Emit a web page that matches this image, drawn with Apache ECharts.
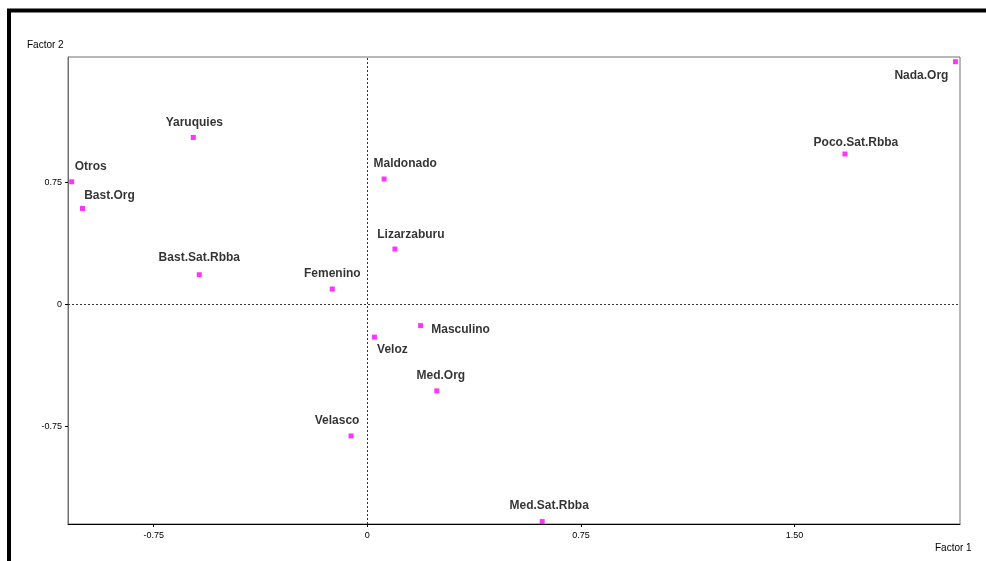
<!DOCTYPE html>
<html>
<head>
<meta charset="utf-8">
<script src="https://cdn.jsdelivr.net/npm/echarts@6/dist/echarts.min.js"></script>
<style>
  html, body { margin: 0; padding: 0; background: #fff; }
  #chart { width: 986px; height: 561px; }
</style>
</head>
<body>
<div id="chart"></div>
<script>
// Datos del análisis de correspondencias (Factor 1 / Factor 2)
const categories = [
  'Nada.Org', 'Poco.Sat.Rbba', 'Yaruquies', 'Otros', 'Bast.Org',
  'Bast.Sat.Rbba', 'Femenino', 'Maldonado', 'Lizarzaburu', 'Masculino',
  'Veloz', 'Med.Org', 'Velasco', 'Med.Sat.Rbba'
]
const factor1 = [2.065, 1.677, -0.611, -1.038, -1.0, -0.59, -0.123, 0.059, 0.097, 0.187, 0.025, 0.244, -0.057, 0.614]
const factor2 = [1.493, 0.925, 1.027, 0.754, 0.59, 0.182, 0.094, 0.771, 0.34, -0.131, -0.202, -0.533, -0.81, -1.337]
const xTicks = [-0.75, 0, 0.75, 1.5]
const yTicks = [-0.75, 0, 0.75]

// desplazamiento de cada etiqueta respecto a su punto (px)
const labelOffsets = [
  [-34, 14], [11, -11], [1, -15], [19, -15], [27, -13],
  [0, -17], [0, -15], [21, -15], [16, -14], [40, 4],
  [18, 13], [4, -15], [-14, -15], [7, -16]
]

const fmt = (v) => (v === 0 ? '0' : v.toFixed(2))

const points = categories.map((name, i) => ({
  name,
  value: [factor1[i], factor2[i]]
}))

const chart = echarts.init(document.getElementById('chart'))

chart.setOption({
  animation: false,
  grid: {
    left: 68,
    top: 57,
    right: 26,
    bottom: 37,
    show: true,
    borderColor: '#707070',
    borderWidth: 1,
    outerBoundsMode: 'none'
  },
  xAxis: {
    type: 'value',
    min: -1.051,
    max: 2.081,
    splitLine: { show: false },
    axisLine: { onZero: false, lineStyle: { color: '#000', width: 1 } },
    axisTick: { customValues: xTicks, length: 3, lineStyle: { color: '#000' } },
    axisLabel: {
      customValues: xTicks,
      formatter: fmt,
      margin: 7,
      color: '#000',
      fontSize: 9,
      fontFamily: 'Liberation Sans, Arial, sans-serif'
    }
  },
  yAxis: {
    type: 'value',
    min: -1.352,
    max: 1.522,
    splitLine: { show: false },
    axisLine: { onZero: false, lineStyle: { color: '#707070', width: 1 } },
    axisTick: { customValues: yTicks, length: 3, lineStyle: { color: '#000' } },
    axisLabel: {
      customValues: yTicks,
      formatter: fmt,
      margin: 6,
      color: '#000',
      fontSize: 9,
      fontFamily: 'Liberation Sans, Arial, sans-serif'
    }
  },
  graphic: [
    {
      type: 'rect',
      silent: true,
      shape: { x: 9, y: 10.5, width: 1000, height: 600 },
      style: { fill: 'none', stroke: '#000', lineWidth: 4 }
    },
    {
      type: 'text',
      left: 27,
      top: 40,
      style: { text: 'Factor 2', fontSize: 10, fill: '#000', fontFamily: 'Liberation Sans, Arial, sans-serif' }
    },
    {
      type: 'text',
      left: 935,
      top: 543,
      style: { text: 'Factor 1', fontSize: 10, fill: '#000', fontFamily: 'Liberation Sans, Arial, sans-serif' }
    }
  ],
  series: [
    {
      type: 'scatter',
      symbol: 'rect',
      symbolSize: 5,
      itemStyle: { color: '#ff00ff' },
      z: 3,
      label: {
        show: true,
        position: 'inside',
        formatter: '{b}',
        color: '#000',
        fontSize: 12,
        fontWeight: 'bold',
        fontFamily: 'Liberation Sans, Arial, sans-serif'
      },
      labelLayout: (params) => ({
        dx: labelOffsets[params.dataIndex][0],
        dy: labelOffsets[params.dataIndex][1],
        hideOverlap: false
      }),
      data: points,
      markLine: {
        silent: true,
        symbol: 'none',
        z: 1,
        label: { show: false },
        lineStyle: { type: [2, 2], color: '#333', width: 1 },
        data: [{ xAxis: 0 }, { yAxis: 0 }]
      }
    }
  ]
})
</script>
</body>
</html>
